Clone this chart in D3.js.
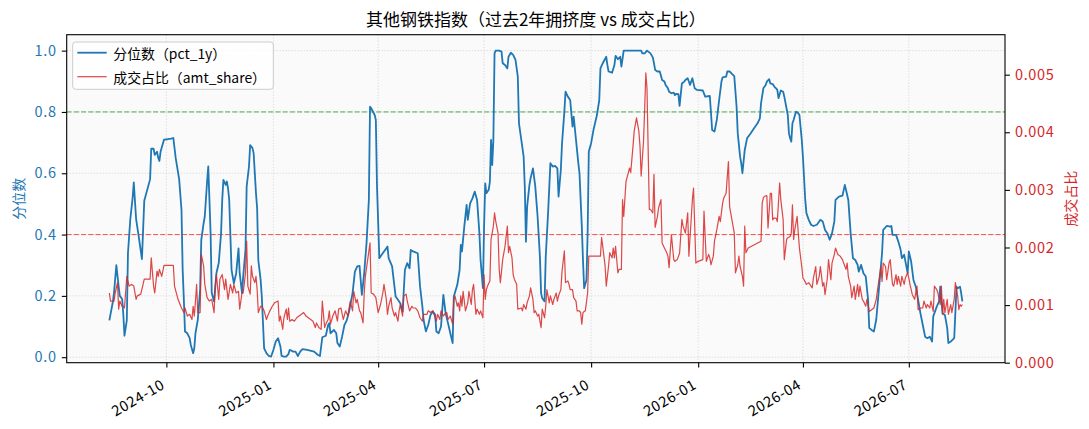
<!DOCTYPE html>
<html>
<head>
<meta charset="utf-8">
<script src="https://d3js.org/d3.v7.min.js"></script>
<style>
  body { margin: 0; background: #fff; }
  text { font-family: "Noto Sans CJK SC", "Noto Sans", sans-serif; }
</style>
</head>
<body>
<div class="canvas"></div>
<script>
const chartTitle = '其他钢铁指数（过去2年拥挤度 vs 成交占比）'
const leftLabel = '分位数'
const rightLabel = '成交占比'

// day offsets from the first trading day
const startDate = new Date(2024, 7, 13)

// pct_1y : [day, value]
const pct = [
  [0,.12],[3,.18],[4,.21],[6,.30],[8,.23],[9,.20],[11,.19],[12,.14],[13,.07],[15,.12],[16,.34],[18,.45],[20,.52],[21,.57],[23,.45],[25,.40],[28,.32],[30,.51],[35,.58],[36,.68],[38,.68],[39,.66],[41,.67],[42,.65],[43,.64],[44,.67],[47,.71],[50,.711],[53,.713],[55,.715],[57,.65],[60,.58],[62,.48],[63,.285],[64,.19],[65,.084],[67,.078],[69,.062],[70,.04],[72,.013],[73,.029],[74,.078],[76,.122],[78,.22],[79,.383],[81,.437],[82,.459],[84,.573],[85,.622],[87,.404],[88,.209],[90,.182],[92,.274],[94,.307],[96,.404],[97,.513],[98,.578],[100,.562],[101,.573],[102,.551],[103,.513],[105,.285],[107,.241],[109,.274],[111,.355],[112,.274],[114,.209],[115,.263],[117,.35],[118,.557],[120,.622],[121,.692],[123,.682],[124,.665],[126,.535],[127,.486],[128,.317],[130,.252],[131,.198],[133,.029],[135,.013],[137,.004],[139,.002],[141,.024],[143,.051],[145,.062],[147,.035],[148,.004],[150,.002],[152,.002],[154,.011],[155,.024],[158,.018],[160,.018],[162,.004],[164,.018],[166,.026],[170,.024],[176,.018],[179,.008],[181,.004],[183,.065],[186,.07],[188,.105],[189,.111],[190,.078],[193,.089],[195,.078],[196,.046],[198,.035],[200,.067],[202,.105],[204,.12],[206,.149],[209,.209],[211,.279],[213,.296],[215,.298],[217,.203],[219,.274],[221,.372],[223,.513],[224,.817],[225,.812],[228,.79],[229,.774],[230,.557],[232,.323],[234,.334],[236,.345],[238,.355],[239,.361],[240,.323],[243,.296],[244,.263],[246,.198],[248,.187],[250,.176],[252,.149],[254,.285],[256,.307],[258,.29],[259,.35],[261,.345],[265,.339],[267,.23],[269,.165],[270,.122],[272,.084],[274,.105],[276,.138],[278,.149],[280,.138],[281,.084],[283,.078],[285,.1],[287,.203],[289,.143],[291,.111],[293,.078],[295,.046],[296,.198],[299,.236],[301,.285],[302,.366],[303,.345],[305,.426],[307,.497],[308,.448],[310,.502],[312,.518],[314,.54],[316,.513],[318,.404],[319,.317],[321,.225],[322,.426],[323,.567],[324,.535],[326,.546],[327,.573],[328,.709],[329,.627],[330,.709],[331,.991],[332,1],[335,1],[337,.997],[338,.959],[340,.953],[342,.942],[343,.98],[345,.993],[347,.986],[349,.97],[351,.915],[352,.763],[354,.709],[356,.654],[357,.557],[358,.377],[359,.491],[361,.562],[362,.584],[364,.616],[366,.557],[368,.459],[370,.328],[371,.209],[372,.192],[374,.182],[375,.328],[377,.47],[379,.633],[381,.622],[383,.624],[385,.616],[386,.524],[388,.613],[389,.698],[391,.801],[392,.866],[394,.85],[396,.839],[398,.752],[399,.785],[401,.709],[403,.633],[404,.6],[406,.426],[407,.317],[408,.225],[410,.252],[411,.404],[412,.671],[414,.698],[416,.741],[419,.79],[421,.839],[422,.942],[424,.959],[427,.98],[428,.953],[429,.932],[432,.928],[434,.953],[435,.983],[437,.972],[439,.98],[440,.948],[442,1],[445,1],[451,1],[457,1],[458,.991],[460,.991],[462,1],[465,.991],[467,.978],[468,.959],[469,.937],[471,.932],[473,.932],[475,.904],[477,.899],[478,.888],[480,.877],[481,.866],[483,.861],[485,.863],[486,.855],[487,.859],[489,.858],[490,.82],[492,.893],[494,.899],[495,.904],[497,.91],[499,.888],[500,.899],[501,.91],[503,.877],[505,.872],[510,.87],[512,.85],[516,.852],[518,.741],[520,.736],[522,.774],[524,.839],[526,.899],[527,.913],[530,.915],[531,.932],[533,.932],[535,.924],[537,.917],[539,.817],[540,.73],[542,.654],[543,.633],[544,.6],[546,.676],[548,.714],[551,.73],[554,.747],[557,.763],[559,.779],[560,.828],[562,.877],[564,.888],[565,.899],[567,.907],[568,.893],[570,.891],[572,.88],[573,.877],[574,.872],[575,.845],[577,.87],[579,.866],[580,.85],[583,.79],[584,.73],[585,.714],[586,.703],[587,.763],[588,.774],[590,.801],[592,.796],[593,.79],[595,.709],[596,.654],[598,.513],[599,.47],[601,.448],[603,.432],[605,.428],[608,.432],[611,.448],[613,.443],[615,.415],[617,.404],[619,.383],[621,.404],[623,.443],[624,.513],[627,.524],[630,.527],[632,.562],[633,.546],[635,.513],[637,.404],[639,.323],[641,.317],[643,.301],[644,.279],[646,.301],[648,.274],[650,.263],[652,.187],[653,.095],[655,.089],[657,.084],[659,.122],[661,.209],[664,.339],[665,.415],[668,.428],[671,.426],[672,.428],[673,.399],[676,.399],[678,.377],[680,.35],[681,.323],[683,.334],[686,.274],[687,.345],[689,.312],[691,.252],[693,.23],[695,.187],[697,.143],[699,.105],[701,.067],[703,.062],[705,.067],[707,.051],[708,.133],[711,.165],[713,.182],[714,.23],[716,.143],[718,.138],[720,.095],[721,.046],[723,.051],[726,.062],[728,.23],[729,.225],[731,.23],[732,.209],[733,.182]
]

// amt_share, in per mille : [day, value]
const amt = [
  [0,1.21],[1,1.07],[4,1.07],[5,1.21],[7,1.39],[8,.93],[9,1.07],[11,.98],[12,.98],[13,.95],[15,1.50],[17,1.33],[19,1.36],[21,1.33],[23,1.10],[24,1.16],[27,1.19],[30,1.45],[33,1.45],[35,1.45],[36,1.82],[38,1.33],[39,1.21],[41,1.59],[42,1.50],[43,1.62],[45,1.50],[47,1.69],[50,1.69],[55,1.69],[56,1.33],[59,1.10],[62,.95],[64,.87],[65,.95],[67,.81],[69,.84],[71,.75],[72,.98],[73,.81],[74,1.07],[75,1.36],[76,.87],[78,.87],[79,1.88],[81,1.68],[82,1.36],[84,1.13],[86,1.07],[88,1.10],[90,.87],[91,1.33],[92,1.53],[94,1.10],[95,1.45],[97,1.53],[99,1.27],[100,1.45],[102,1.10],[104,1.36],[106,1.21],[107,1.36],[109,1.21],[111,1.24],[112,.93],[114,1.21],[115,1.21],[117,1.56],[118,2.11],[119,1.33],[121,1.19],[122,1.68],[123,1.50],[125,1.39],[126,1.50],[127,1.27],[128,.87],[130,.98],[131,.98],[133,.90],[135,.75],[136,.81],[138,.90],[140,.98],[142,1.04],[145,1.07],[146,.72],[147,.81],[149,.58],[150,.78],[152,.93],[153,.75],[154,.95],[155,.72],[157,.75],[159,.72],[161,.78],[163,.81],[165,.84],[167,.87],[169,.81],[171,.78],[173,.75],[175,.72],[177,.61],[178,.69],[180,.61],[182,.58],[183,1.07],[185,.61],[186,.67],[188,.75],[189,.90],[190,.67],[192,.81],[194,.90],[196,.72],[197,.93],[199,.95],[201,.75],[203,.90],[205,.81],[207,1.07],[209,.90],[210,1.24],[212,1.04],[213,1.10],[215,.90],[216,.87],[218,.69],[219,1.21],[220,1.50],[222,1.79],[224,2.08],[225,1.21],[227,1.19],[229,1.13],[231,.87],[233,1.01],[235,1.21],[236,1.36],[238,1.10],[239,.84],[240,.98],[242,1.13],[243,.95],[245,.81],[246,.87],[248,.72],[249,.90],[250,1.01],[252,.81],[253,1.16],[255,1.19],[256,1.07],[258,.90],[260,.98],[261,.95],[263,.95],[265,.90],[267,.78],[269,.72],[270,.84],[273,.84],[274,.90],[276,.87],[278,.90],[279,.84],[281,.72],[282,.84],[284,.75],[285,.90],[287,.81],[288,.84],[290,.87],[291,.75],[293,.81],[295,.67],[296,1.10],[297,1.16],[299,.98],[300,1.04],[301,.90],[302,1.16],[303,.98],[304,1.24],[306,.90],[308,1.04],[309,1.24],[311,1.01],[312,1.27],[313,1.36],[315,.84],[316,.93],[318,.84],[319,.90],[321,.78],[322,1.53],[323,1.10],[324,1.27],[325,1.33],[327,1.42],[328,2.14],[330,2.37],[331,2.60],[332,2.46],[334,2.25],[335,1.62],[336,1.39],[338,1.79],[340,2.02],[342,2.37],[343,1.91],[344,2.02],[346,1.82],[347,1.53],[348,1.45],[350,1.36],[351,.93],[354,.95],[355,.90],[356,1.01],[358,.93],[359,1.04],[361,1.16],[362,1.30],[364,1.10],[365,.87],[366,.90],[368,.81],[369,.84],[371,.61],[372,.93],[374,.78],[375,.98],[376,1.27],[378,1.04],[379,1.16],[381,1.01],[382,1.10],[384,1.21],[385,1.07],[386,1.16],[388,1.27],[389,1.59],[391,1.94],[392,1.39],[394,1.42],[395,1.36],[396,1.27],[398,1.27],[399,1.13],[401,1.07],[402,.90],[404,.90],[405,.87],[406,.67],[407,.87],[409,.90],[411,1.21],[412,1.85],[416,1.85],[422,1.85],[423,2.17],[424,2.02],[426,1.68],[427,1.33],[429,1.68],[430,1.91],[432,1.82],[433,1.99],[434,1.82],[435,2.02],[437,1.56],[438,1.62],[440,1.62],[441,2.83],[442,2.54],[444,3.15],[446,3.30],[447,3.38],[448,3.30],[450,3.76],[451,4.02],[453,4.25],[455,4.02],[456,3.76],[457,3.24],[459,3.84],[460,4.39],[461,5.03],[462,4.77],[464,2.66],[465,2.66],[467,2.60],[468,3.27],[469,2.35],[471,2.54],[472,2.69],[474,2.83],[475,2.08],[477,1.99],[479,1.91],[480,1.85],[481,1.65],[483,2.22],[485,1.79],[486,1.76],[488,1.79],[490,1.90],[492,2.49],[493,2.37],[495,2.25],[497,2.60],[498,1.85],[500,2.50],[501,2.83],[502,3.03],[504,1.73],[506,1.76],[510,1.79],[511,2.63],[512,2.19],[513,1.76],[515,1.88],[516,1.82],[517,1.70],[519,1.85],[520,2.11],[522,2.31],[524,2.54],[525,2.45],[527,2.77],[528,2.86],[530,2.94],[531,3.23],[532,3.49],[533,2.71],[535,2.48],[537,2.25],[538,1.56],[540,1.70],[541,1.85],[542,1.67],[544,1.50],[545,1.33],[546,2.37],[547,1.91],[549,1.99],[560,2.11],[561,2.77],[562,2.86],[563,2.89],[565,2.90],[566,2.34],[568,2.94],[569,2.94],[570,2.48],[571,2.51],[573,2.51],[574,2.45],[576,3.12],[577,2.83],[579,2.48],[580,1.79],[582,2.14],[583,2.17],[585,2.19],[586,2.25],[587,2.74],[588,2.14],[589,2.31],[591,2.54],[592,2.25],[593,1.99],[595,1.67],[596,1.47],[597,1.44],[599,1.36],[601,1.39],[603,1.33],[604,1.30],[605,1.47],[607,1.67],[608,1.36],[610,1.50],[611,1.67],[613,1.33],[614,1.39],[615,1.18],[617,1.47],[618,1.79],[620,1.44],[621,1.73],[623,1.88],[624,1.99],[626,1.88],[628,1.85],[630,1.79],[631,1.73],[633,1.62],[634,1.73],[635,1.50],[637,1.33],[638,1.13],[640,1.33],[641,1.10],[643,1.36],[644,1.15],[645,1.33],[647,1.10],[648,1.07],[650,.98],[651,1.10],[653,.89],[655,.92],[657,.95],[659,1.10],[661,1.39],[663,1.67],[664,1.41],[665,1.73],[667,1.67],[668,1.44],[670,1.73],[671,1.79],[673,1.36],[674,1.33],[676,1.53],[677,1.36],[678,1.50],[680,1.33],[681,1.50],[683,1.36],[684,1.47],[686,1.56],[687,1.47],[688,1.36],[690,1.18],[692,1.10],[694,1.33],[695,.92],[697,.95],[699,.95],[700,1.07],[702,.95],[703,1.01],[705,.95],[706,1.07],[708,.89],[709,1.33],[711,1.27],[712,1.21],[714,1.01],[715,1.33],[716,.84],[717,1.10],[718,.87],[720,1.10],[721,.84],[723,1.01],[724,.87],[726,1.10],[727,1.39],[729,1.15],[730,.92],[731,1.01],[732,.98],[733,1.01]
]

const leftTicks = [0, 0.2, 0.4, 0.6, 0.8, 1.0]
const rightTicks = [0, 1, 2, 3, 4, 5]
const refLines = [
  { value: 0.8, color: '#2ca02c' },
  { value: 0.4, color: '#ff3333' }
]
const legendItems = [
  { label: '分位数（pct_1y）', color: '#1f77b4', width: 1.8, opacity: 1 },
  { label: '成交占比（amt_share）', color: '#d62728', width: 1.2, opacity: 0.85 }
]

const blue = '#1f77b4'
const red = '#d62728'

const width = 1089
const height = 429
const margin = { top: 34.7, right: 84, bottom: 66.3, left: 66.7 }
const graphWidth = width - margin.left - margin.right
const graphHeight = height - margin.top - margin.bottom

const svg = d3.select('.canvas')
  .append('svg')
    .attr('width', width)
    .attr('height', height)

const graph = svg.append('g')
  .attr('transform', `translate(${margin.left},${margin.top})`)

const toDate = d => d3.timeDay.offset(startDate, d)

// x domain padded 5% each side like matplotlib
const [d0, d1] = d3.extent(pct, d => d[0])
const pad = (d1 - d0) * 0.05 * 864e5
const x = d3.scaleTime()
  .domain([new Date(+toDate(d0) - pad), new Date(+toDate(d1) + pad)])
  .range([0, graphWidth])

const yLeft = d3.scaleLinear()
  .domain([-0.018, 1.052])
  .range([graphHeight, 0])

const yRight = d3.scaleLinear()
  .domain([0, 5.694])
  .range([graphHeight, 0])

// plot background
graph.append('rect')
  .attr('width', graphWidth)
  .attr('height', graphHeight)
  .attr('fill', '#fafafa')

const xTicks = x.ticks(d3.timeMonth.every(3))

// grid
const grid = graph.append('g')
  .attr('stroke', '#b0b0b0')
  .attr('stroke-opacity', 0.6)
  .attr('stroke-width', 0.8)
  .attr('stroke-dasharray', '1.1,1.9')
grid.selectAll('.gx')
  .data(xTicks)
  .enter().append('line')
    .attr('x1', d => x(d)).attr('x2', d => x(d))
    .attr('y1', 0).attr('y2', graphHeight)
grid.selectAll('.gy')
  .data(leftTicks)
  .enter().append('line')
    .attr('x1', 0).attr('x2', graphWidth)
    .attr('y1', d => yLeft(d)).attr('y2', d => yLeft(d))

// reference lines
graph.selectAll('.ref')
  .data(refLines)
  .enter().append('line')
    .attr('x1', 0).attr('x2', graphWidth)
    .attr('y1', d => yLeft(d.value)).attr('y2', d => yLeft(d.value))
    .attr('stroke', d => d.color)
    .attr('stroke-opacity', 0.85)
    .attr('stroke-width', 1)
    .attr('stroke-dasharray', '5,2.2')

// series
const pctLine = d3.line()
  .x(d => x(toDate(d[0])))
  .y(d => yLeft(d[1]))
const amtLine = d3.line()
  .x(d => x(toDate(d[0])))
  .y(d => yRight(d[1]))

graph.append('path')
  .datum(pct)
  .attr('d', pctLine)
  .attr('fill', 'none')
  .attr('stroke', blue)
  .attr('stroke-width', 1.8)
  .attr('stroke-linejoin', 'round')

graph.append('path')
  .datum(amt)
  .attr('d', amtLine)
  .attr('fill', 'none')
  .attr('stroke', red)
  .attr('stroke-opacity', 0.85)
  .attr('stroke-width', 1.2)
  .attr('stroke-linejoin', 'round')

// frame
graph.append('rect')
  .attr('width', graphWidth)
  .attr('height', graphHeight)
  .attr('fill', 'none')
  .attr('stroke', '#000')
  .attr('stroke-width', 1.1)

// axes
const xAxisGroup = graph.append('g')
  .attr('transform', `translate(0,${graphHeight})`)
const yAxisGroup = graph.append('g')
const y2AxisGroup = graph.append('g')
  .attr('transform', `translate(${graphWidth},0)`)

const xAxis = d3.axisBottom(x)
  .tickValues(xTicks)
  .tickFormat(d3.timeFormat('%Y-%m'))
  .tickSize(4.9)
const yAxis = d3.axisLeft(yLeft)
  .tickValues(leftTicks)
  .tickFormat(d3.format('.1f'))
  .tickSize(4.9)
  .tickPadding(5)
const y2Axis = d3.axisRight(yRight)
  .tickValues(rightTicks)
  .tickFormat(d => (d / 1000).toFixed(3))
  .tickSize(4.9)
  .tickPadding(5)

xAxisGroup.call(xAxis)
yAxisGroup.call(yAxis)
y2AxisGroup.call(y2Axis)

svg.selectAll('.domain').remove()
svg.selectAll('.tick line').attr('stroke', '#000').attr('stroke-width', 1.1)
svg.selectAll('.tick text').attr('font-size', 14.5).attr('letter-spacing', 0.7)

xAxisGroup.selectAll('text')
  .attr('y', 0).attr('dy', 0)
  .attr('fill', '#000')
  .attr('text-anchor', 'end')
  .attr('transform', 'translate(-1,25) rotate(-30)')
yAxisGroup.selectAll('text').attr('fill', blue)
y2AxisGroup.selectAll('text').attr('fill', red)

// axis labels
svg.append('text')
  .attr('transform', `translate(18.3,${margin.top + graphHeight / 2}) rotate(-90)`)
  .attr('text-anchor', 'middle')
  .attr('dominant-baseline', 'central')
  .attr('font-size', 14)
  .attr('fill', blue)
  .text(leftLabel)
svg.append('text')
  .attr('transform', `translate(1070,${margin.top + graphHeight / 2}) rotate(-90)`)
  .attr('text-anchor', 'middle')
  .attr('dominant-baseline', 'central')
  .attr('font-size', 14)
  .attr('fill', red)
  .text(rightLabel)

// title
svg.append('text')
  .attr('x', margin.left + graphWidth / 2)
  .attr('y', 26)
  .attr('text-anchor', 'middle')
  .attr('font-size', 17)
  .attr('fill', '#000')
  .text(chartTitle)

// legend
const legendGroup = graph.append('g')
  .attr('transform', 'translate(6,7.3)')
legendGroup.append('rect')
  .attr('width', 200.6)
  .attr('height', 47.3)
  .attr('rx', 3)
  .attr('fill', '#fff')
  .attr('fill-opacity', 0.8)
  .attr('stroke', '#cccccc')
  .attr('stroke-width', 1)
const rows = legendGroup.selectAll('.row')
  .data(legendItems)
  .enter().append('g')
    .attr('transform', (d, i) => `translate(0,${10.7 + i * 24})`)
rows.append('line')
  .attr('x1', 4.6).attr('x2', 34)
  .attr('stroke', d => d.color)
  .attr('stroke-width', d => d.width)
  .attr('stroke-opacity', d => d.opacity)
rows.append('text')
  .attr('x', 40.6)
  .attr('dominant-baseline', 'central')
  .attr('font-size', 13.9)
  .attr('fill', '#000')
  .text(d => d.label)
</script>
</body>
</html>
